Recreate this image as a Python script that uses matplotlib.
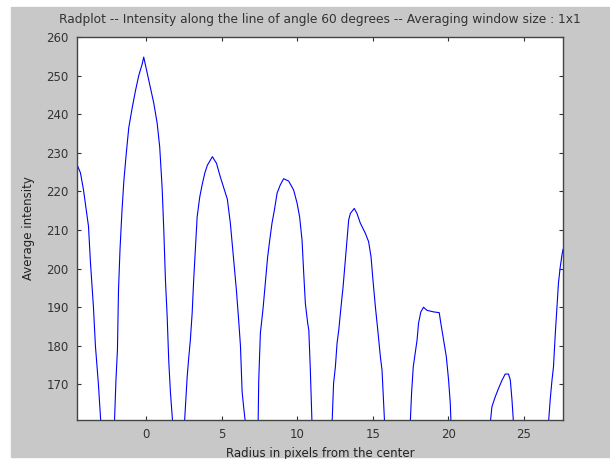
import matplotlib.pyplot as plt
from matplotlib.patches import Rectangle

# Radial intensity profile
radius = [-4.60, -4.37, -4.17, -3.84, -3.71, -3.51, -3.38, -3.18, -3.02, -2.55,
          -2.12, -2.02, -1.92, -1.85, -1.75, -1.62, -1.49, -1.32, -1.17, -0.95,
          -0.73, -0.51, -0.28, -0.18, 0.05, 0.26, 0.48, 0.71, 0.88, 1.04,
          1.15, 1.26, 1.37, 1.48, 1.59, 1.74, 2.10,
          2.52, 2.58, 2.70, 2.80, 2.91, 3.03, 3.13, 3.25, 3.36, 3.53,
          3.69, 3.87, 4.04, 4.37, 4.64, 4.90, 5.17, 5.36, 5.56, 5.78,
          5.96, 6.11, 6.23, 6.34, 6.44, 6.56, 7.00,
          7.40, 7.44, 7.55, 7.73, 7.88, 8.03, 8.17, 8.32, 8.48, 8.66,
          8.87, 9.09, 9.42, 9.75, 9.98, 10.15, 10.31, 10.42, 10.53, 10.68,
          10.76, 10.86, 10.97, 11.60,
          12.30, 12.40, 12.52, 12.63, 12.74, 12.89, 13.03, 13.18, 13.29, 13.40,
          13.51, 13.77, 13.95, 14.17, 14.50, 14.72, 14.88, 15.01, 15.17, 15.33,
          15.50, 15.61, 15.72, 15.78, 16.60,
          17.48, 17.57, 17.68, 17.93, 18.03, 18.18, 18.36, 18.59, 19.03, 19.40,
          19.50, 19.65, 19.87, 20.02, 20.13, 20.18, 21.50,
          22.78, 22.89, 23.11, 23.33, 23.56, 23.77, 23.99, 24.11, 24.22, 24.32,
          25.50,
          26.64, 26.75, 26.87, 26.97, 27.09, 27.20, 27.30, 27.42, 27.55, 27.60]
intensity = [227.0, 224.8, 220.4, 211.0, 201.7, 190.0, 180.0, 170.0, 160.0, 150.0,
             160.0, 171.0, 179.0, 194.5, 205.0, 215.0, 223.0, 230.5, 236.5, 241.5,
             246.0, 250.0, 253.0, 254.8, 250.7, 247.0, 243.0, 237.7, 231.5, 221.0,
             210.0, 197.0, 188.0, 176.0, 168.0, 160.0, 150.0,
             160.0, 163.9, 172.0, 176.8, 181.5, 188.5, 197.0, 205.6, 213.4, 218.5,
             221.7, 224.8, 226.8, 229.0, 227.3, 223.7, 220.4, 218.0, 211.8, 202.2,
             194.5, 186.7, 180.0, 168.1, 164.2, 160.0, 150.0,
             160.0, 171.0, 183.3, 189.8, 196.3, 203.0, 207.4, 211.8, 215.2, 219.6,
             221.7, 223.3, 222.7, 220.4, 217.0, 213.4, 207.4, 198.9, 191.0, 186.0,
             184.0, 173.7, 160.0, 150.0,
             160.0, 170.3, 174.6, 180.7, 184.0, 190.0, 195.3, 202.2, 207.4, 212.6,
             214.3, 215.6, 214.3, 211.8, 209.2, 207.0, 203.1, 197.0, 190.1, 184.0,
             177.2, 173.7, 165.2, 160.0, 150.0,
             160.0, 168.0, 174.6, 181.5, 185.9, 188.8, 190.0, 189.2, 188.8, 188.6,
             186.0, 182.4, 177.2, 171.1, 165.2, 160.0, 150.0,
             160.0, 164.2, 166.8, 169.0, 171.1, 172.7, 172.7, 171.1, 166.0, 160.0,
             150.0,
             160.0, 166.0, 171.1, 174.6, 183.2, 190.1, 196.3, 200.5, 204.0, 205.0]

x_ticks = [0, 5, 10, 15, 20, 25]
y_ticks = [170, 180, 190, 200, 210, 220, 230, 240, 250, 260]

fig = plt.figure(figsize=(6.1, 4.59), dpi=100, facecolor='white')
# grey MATLAB-style figure panel behind everything
fig.patches.append(Rectangle((11/610, 0.004), 1, 1 - 7/459 - 0.004,
                             transform=fig.transFigure, color='#c8c8c8', zorder=-10))

ax = fig.add_axes([77/610, 1 - 420/459, 486/610, 383/459])
ax.set_zorder(5)
ax.set_facecolor('white')
ax.plot(radius, intensity, color='#0000ff', lw=0.8)

ax.set_xlim(-4.6, 27.6)
ax.set_ylim(160.8, 260)
ax.set_xticks(x_ticks)
ax.set_yticks(y_ticks)
ax.tick_params(direction='in', length=3, top=True, right=True, labelsize=8.5,
               labelcolor='#333333', color='#333333', pad=6)
for s in ax.spines.values():
    s.set_color('#444444')
    s.set_linewidth(1.0)

ax.set_title('Radplot -- Intensity along the line of angle 60 degrees -- Averaging window size : 1x1',
             fontsize=8.8, color='#333333', pad=10)
ax.set_xlabel('Radius in pixels from the center', fontsize=8.5, color='#222222', labelpad=4)
ax.set_ylabel('Average intensity', fontsize=8.5, color='#222222', labelpad=8)

fig.savefig('out.png', dpi=100, facecolor=fig.get_facecolor())
